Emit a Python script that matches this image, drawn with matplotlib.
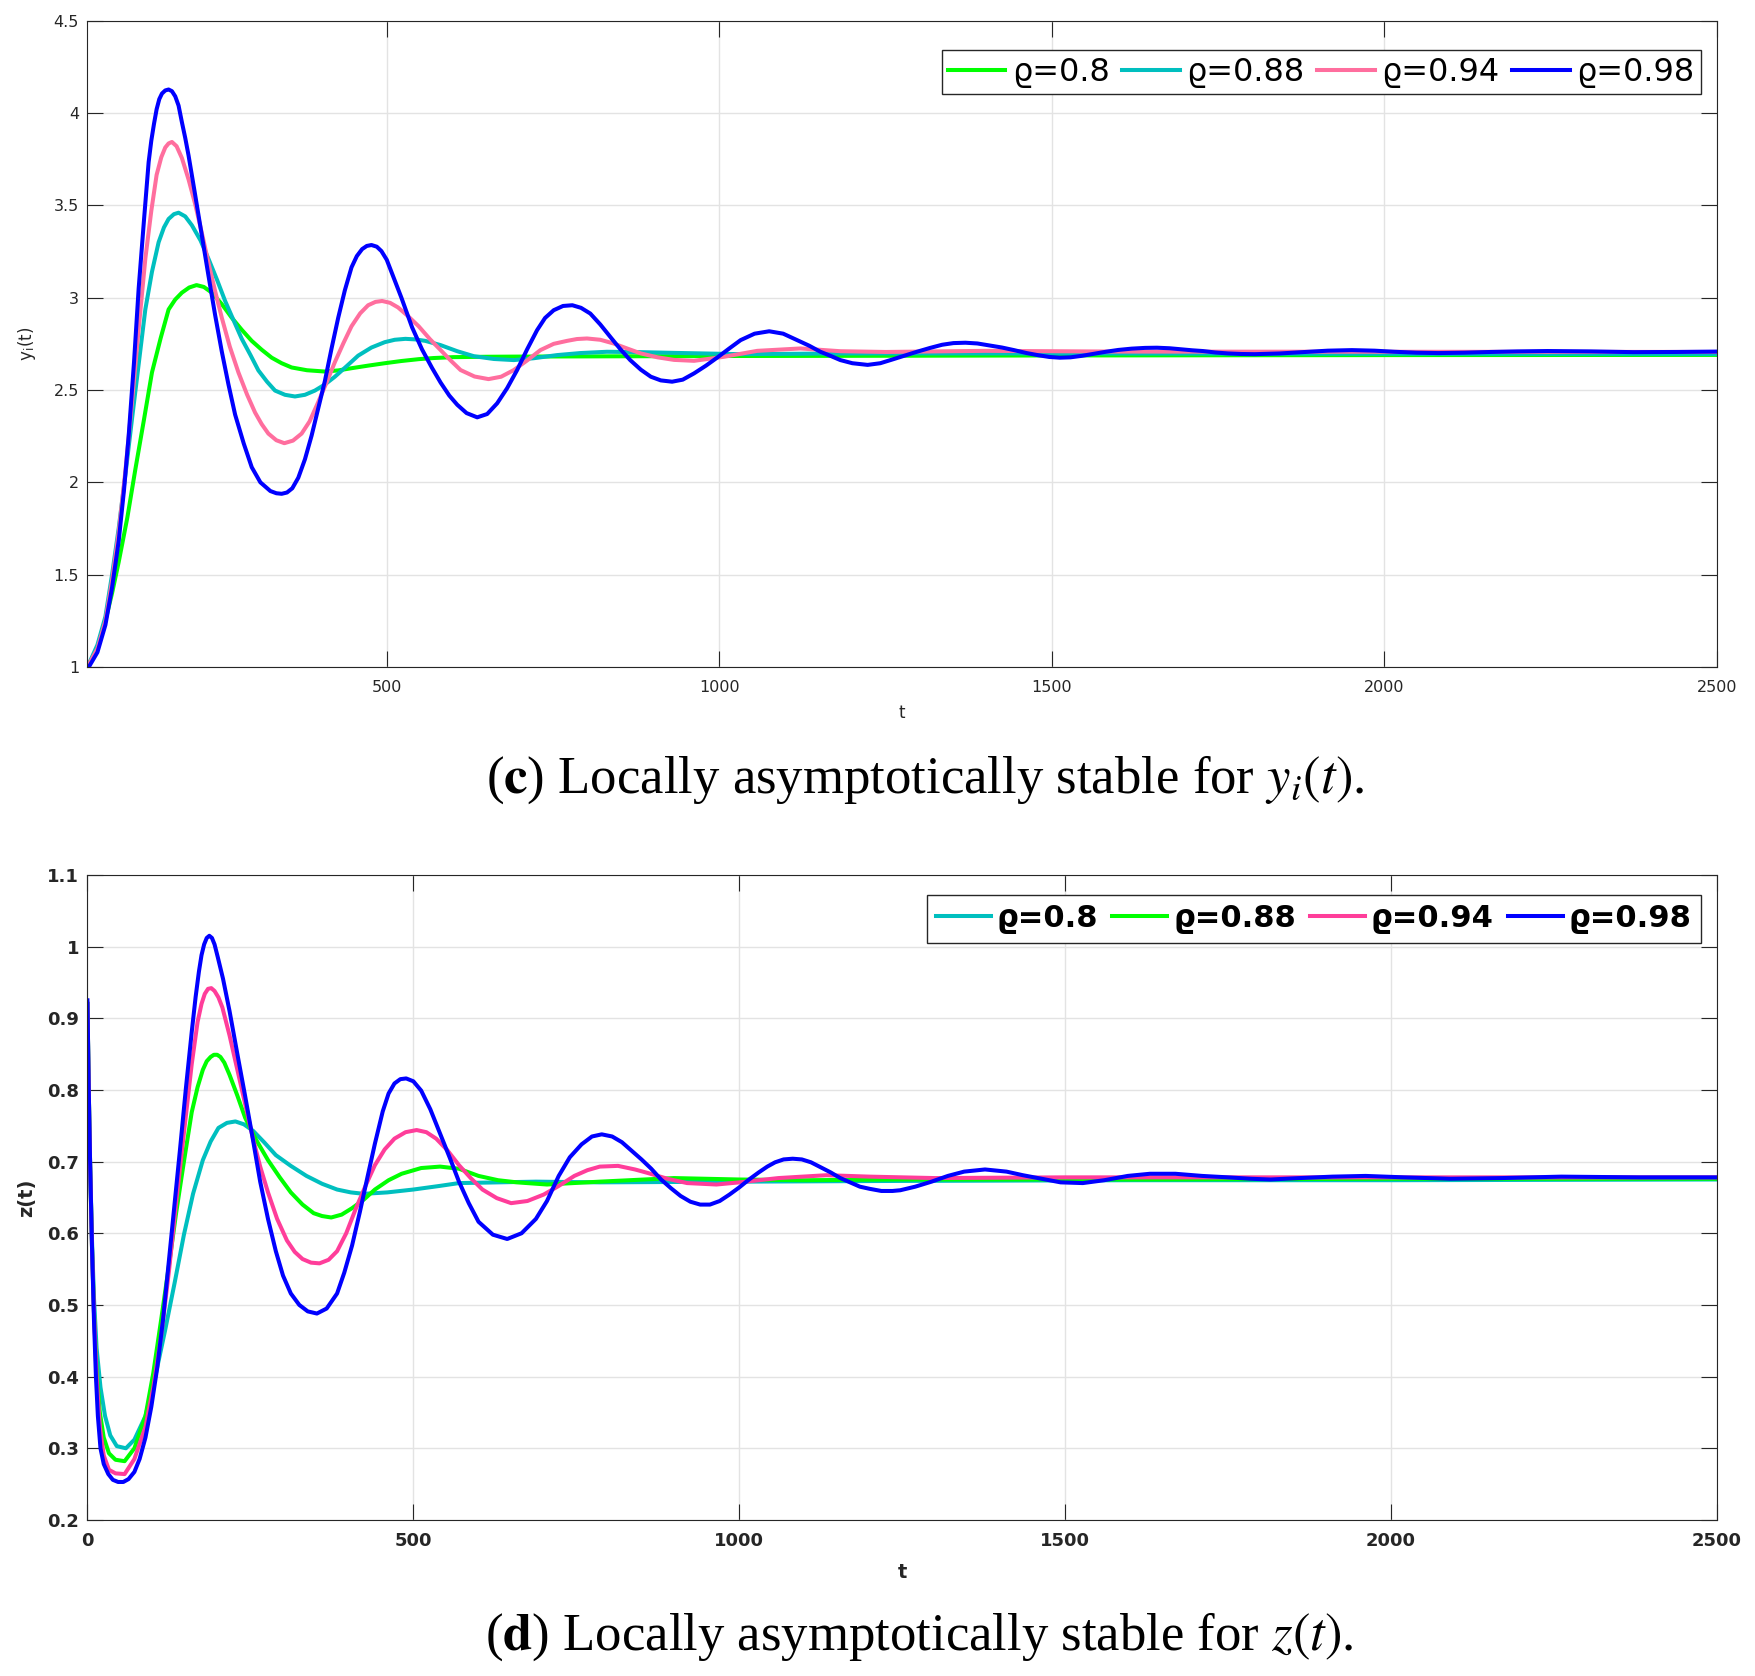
import matplotlib
matplotlib.use('Agg')
import matplotlib.pyplot as plt

plt.rcParams['font.family'] = ['DejaVu Sans']
plt.rcParams['mathtext.fontset'] = 'stix'

# ---- data ----
rho_labels = ['ϱ=0.8', 'ϱ=0.88', 'ϱ=0.94', 'ϱ=0.98']

# panel (c): y_i(t)
y_080 = [(50, 1.0), (65, 1.1), (77, 1.25), (87, 1.4), (97, 1.569), (110, 1.81), (122, 2.07), (135, 2.34),
         (147, 2.595), (160, 2.78), (172, 2.936), (182, 2.99), (192, 3.027), (203, 3.055), (214, 3.068),
         (225, 3.058), (237, 3.027), (252, 2.965), (267, 2.891), (282, 2.826), (297, 2.766), (312, 2.718),
         (327, 2.675), (342, 2.645), (357, 2.622), (380, 2.607), (407, 2.6), (427, 2.606), (447, 2.618),
         (472, 2.632), (497, 2.645), (522, 2.657), (548, 2.667), (570, 2.673), (600, 2.678), (650, 2.68),
         (700, 2.681), (800, 2.682), (900, 2.683), (1000, 2.684), (1200, 2.685), (1500, 2.687),
         (2000, 2.689), (2500, 2.69)]
y_088 = [(50, 1.0), (65, 1.12), (77, 1.273), (87, 1.5), (97, 1.752), (107, 2.04), (117, 2.344), (127, 2.64),
         (137, 2.936), (147, 3.14), (157, 3.3), (165, 3.38), (172, 3.426), (180, 3.452), (187, 3.46),
         (197, 3.44), (207, 3.392), (220, 3.31), (232, 3.21), (245, 3.095), (257, 2.982), (270, 2.875),
         (282, 2.777), (295, 2.69), (307, 2.606), (320, 2.545), (332, 2.497), (347, 2.474), (362, 2.465),
         (377, 2.474), (392, 2.497), (407, 2.53), (422, 2.572), (440, 2.63), (457, 2.686), (477, 2.73),
         (497, 2.759), (512, 2.772), (528, 2.777), (543, 2.774), (558, 2.766), (581, 2.743), (606, 2.71),
         (631, 2.683), (661, 2.668), (691, 2.662), (721, 2.672), (756, 2.689), (791, 2.7), (831, 2.707),
         (880, 2.705), (932, 2.701), (1032, 2.694), (1182, 2.698), (1500, 2.698), (2000, 2.696),
         (2500, 2.695)]
y_094 = [(50, 1.0), (65, 1.1), (77, 1.25), (87, 1.47), (97, 1.729), (107, 2.06), (117, 2.435), (127, 2.83),
         (137, 3.21), (146, 3.47), (154, 3.665), (161, 3.76), (167, 3.813), (172, 3.835), (177, 3.843),
         (184, 3.82), (192, 3.756), (202, 3.64), (212, 3.506), (222, 3.35), (232, 3.187), (242, 3.035),
         (252, 2.891), (264, 2.735), (277, 2.595), (290, 2.475), (302, 2.378), (312, 2.315), (322, 2.264),
         (334, 2.228), (346, 2.212), (359, 2.226), (372, 2.264), (384, 2.33), (397, 2.435), (410, 2.545),
         (422, 2.651), (435, 2.755), (447, 2.845), (460, 2.915), (472, 2.959), (483, 2.977), (493, 2.982),
         (505, 2.972), (517, 2.947), (532, 2.9), (548, 2.845), (565, 2.775), (581, 2.716), (596, 2.66),
         (611, 2.608), (632, 2.573), (653, 2.559), (672, 2.572), (691, 2.608), (711, 2.66), (731, 2.716),
         (751, 2.75), (771, 2.766), (786, 2.776), (801, 2.779), (821, 2.772), (841, 2.752), (862, 2.724),
         (882, 2.698), (907, 2.677), (932, 2.663), (962, 2.658), (1007, 2.68), (1057, 2.712), (1122, 2.725),
         (1182, 2.71), (1250, 2.706), (1400, 2.712), (1600, 2.708), (2000, 2.707), (2500, 2.706)]
y_098 = [(52, 1.0), (65, 1.08), (77, 1.228), (87, 1.43), (97, 1.683), (105, 1.96), (112, 2.253), (120, 2.65),
         (127, 3.05), (135, 3.42), (142, 3.734), (146, 3.85), (150, 3.94), (154, 4.02), (158, 4.075),
         (162, 4.105), (167, 4.122), (172, 4.127), (177, 4.118), (182, 4.09), (187, 4.04), (192, 3.95),
         (197, 3.865), (202, 3.77), (212, 3.555), (222, 3.335), (232, 3.118), (242, 2.905),
         (252, 2.708), (262, 2.53), (272, 2.367), (285, 2.21), (297, 2.082), (310, 2.0), (325, 1.953),
         (334, 1.941), (342, 1.938), (350, 1.945), (358, 1.968), (367, 2.025), (377, 2.125), (387, 2.253),
         (397, 2.4), (407, 2.549), (417, 2.725), (427, 2.891), (437, 3.04), (447, 3.164), (455, 3.225),
         (463, 3.263), (470, 3.28), (477, 3.285), (485, 3.276), (492, 3.252), (500, 3.205),
         (507, 3.14), (522, 3.0), (538, 2.84), (553, 2.72), (568, 2.62), (581, 2.54), (594, 2.47),
         (606, 2.42), (620, 2.375), (636, 2.352), (651, 2.37), (666, 2.428), (681, 2.51), (696, 2.608),
         (711, 2.72), (726, 2.824), (738, 2.89), (751, 2.932), (765, 2.955), (779, 2.959), (792, 2.945),
         (806, 2.914), (821, 2.855), (836, 2.788), (851, 2.722), (866, 2.662), (882, 2.61), (897, 2.572),
         (912, 2.552), (929, 2.545), (945, 2.556), (962, 2.59), (980, 2.632), (997, 2.676), (1015, 2.725),
         (1032, 2.77), (1053, 2.805), (1075, 2.818), (1096, 2.805), (1117, 2.77), (1135, 2.74),
         (1152, 2.707), (1167, 2.685), (1182, 2.662), (1200, 2.645), (1223, 2.636), (1242, 2.645),
         (1260, 2.665), (1280, 2.688), (1297, 2.707), (1317, 2.728), (1335, 2.745), (1352, 2.754),
         (1370, 2.756), (1388, 2.752), (1405, 2.742), (1425, 2.73), (1443, 2.716), (1462, 2.7),
         (1480, 2.688), (1496, 2.679), (1512, 2.675), (1528, 2.677), (1545, 2.685), (1563, 2.696),
         (1581, 2.707), (1600, 2.717), (1620, 2.724), (1640, 2.728), (1658, 2.729), (1677, 2.726),
         (1695, 2.72), (1711, 2.715), (1727, 2.711), (1746, 2.703), (1765, 2.698), (1785, 2.695),
         (1805, 2.694), (1843, 2.698), (1880, 2.706), (1915, 2.713), (1951, 2.716), (1985, 2.713),
         (2015, 2.707), (2048, 2.702), (2081, 2.7), (2120, 2.702), (2160, 2.706), (2200, 2.709),
         (2245, 2.711), (2310, 2.709), (2374, 2.705), (2440, 2.706), (2500, 2.708)]

# panel (d): z(t)
z_080 = [(0, 0.92), (2, 0.8), (4, 0.7), (7, 0.59), (10, 0.51), (14, 0.44), (20, 0.385), (27, 0.345),
         (35, 0.318), (45, 0.303), (59, 0.3), (72, 0.312), (89, 0.345), (104, 0.4), (119, 0.464),
         (134, 0.532), (148, 0.598), (162, 0.655), (177, 0.702), (189, 0.728), (201, 0.747), (214, 0.754),
         (227, 0.756), (240, 0.752), (254, 0.743), (271, 0.727), (289, 0.709), (312, 0.694), (336, 0.68),
         (360, 0.669), (383, 0.661), (404, 0.657), (424, 0.655), (460, 0.657), (500, 0.661), (540, 0.666),
         (570, 0.67), (630, 0.671), (688, 0.672), (786, 0.671), (1000, 0.672), (1247, 0.673),
         (1600, 0.674), (2000, 0.674), (2500, 0.675)]
z_088 = [(0, 0.92), (2, 0.8), (4, 0.7), (7, 0.58), (10, 0.49), (14, 0.41), (19, 0.35), (25, 0.315),
         (33, 0.293), (43, 0.284), (57, 0.282), (72, 0.3), (89, 0.345), (101, 0.405), (113, 0.479),
         (125, 0.555), (136, 0.628), (148, 0.7), (160, 0.769), (169, 0.804), (177, 0.828), (183, 0.84),
         (189, 0.846), (194, 0.849), (199, 0.849), (204, 0.846), (210, 0.838), (218, 0.821), (230, 0.792),
         (242, 0.761), (259, 0.73), (277, 0.702),
         (295, 0.678), (312, 0.657), (330, 0.64), (347, 0.628), (360, 0.624), (374, 0.622), (390, 0.626),
         (406, 0.635), (424, 0.647), (441, 0.661), (462, 0.674), (482, 0.683), (512, 0.691), (541, 0.693),
         (570, 0.69), (600, 0.68), (630, 0.674), (659, 0.671), (705, 0.668), (786, 0.672), (900, 0.677),
         (1000, 0.675), (1100, 0.674), (1247, 0.675), (1600, 0.675), (2000, 0.676), (2500, 0.676)]
z_094 = [(0, 0.92), (2, 0.8), (4, 0.7), (7, 0.58), (10, 0.49), (14, 0.4), (19, 0.33), (25, 0.29),
         (33, 0.27), (43, 0.265), (57, 0.264), (72, 0.285), (89, 0.33), (101, 0.385), (113, 0.456),
         (125, 0.547), (136, 0.642), (148, 0.74), (160, 0.836), (169, 0.895), (175, 0.92), (180, 0.934),
         (185, 0.941), (190, 0.942), (195, 0.938), (201, 0.929), (207, 0.915), (218, 0.876), (230, 0.828),
         (242, 0.78), (254, 0.732),
         (265, 0.693), (277, 0.657), (291, 0.62), (306, 0.59), (318, 0.574), (330, 0.564), (343, 0.559),
         (356, 0.558), (370, 0.563), (383, 0.575), (397, 0.6), (412, 0.635), (427, 0.667), (441, 0.695),
         (456, 0.717), (471, 0.732), (488, 0.741), (505, 0.744), (520, 0.741), (535, 0.732), (552, 0.716),
         (570, 0.695), (588, 0.677), (606, 0.661), (628, 0.649), (650, 0.642), (675, 0.645), (700, 0.654),
         (723, 0.666), (747, 0.68), (767, 0.688), (786, 0.693), (814, 0.694), (840, 0.689), (860, 0.684),
         (890, 0.676), (920, 0.67), (965, 0.668), (1000, 0.671), (1060, 0.677), (1134, 0.681),
         (1200, 0.679), (1300, 0.677), (1500, 0.678), (2000, 0.678), (2500, 0.678)]
z_098 = [(0, 0.925), (2, 0.8), (4, 0.702), (7, 0.58), (10, 0.479), (13, 0.4), (16, 0.345), (20, 0.3),
         (25, 0.278), (32, 0.264), (39, 0.256), (47, 0.253), (55, 0.253), (63, 0.257), (72, 0.267),
         (80, 0.285), (89, 0.315), (98, 0.358), (107, 0.412), (116, 0.48), (124, 0.553), (133, 0.635),
         (142, 0.717), (151, 0.802), (160, 0.881), (166, 0.93), (171, 0.965), (175, 0.988), (179, 1.003),
         (183, 1.012), (187, 1.015), (191, 1.012), (195, 1.003), (200, 0.985), (208, 0.955), (218, 0.91),
         (230, 0.85), (242, 0.791), (254, 0.73),
         (265, 0.672), (277, 0.62), (289, 0.575), (300, 0.541), (312, 0.516), (325, 0.5), (338, 0.491),
         (352, 0.488), (367, 0.495), (383, 0.516), (394, 0.545), (406, 0.583), (418, 0.63), (430, 0.68),
         (441, 0.725), (453, 0.77), (462, 0.795), (471, 0.809), (480, 0.815), (489, 0.816), (500, 0.812),
         (512, 0.799), (526, 0.773), (541, 0.739), (556, 0.705), (570, 0.672), (585, 0.642), (600, 0.616),
         (622, 0.598), (644, 0.592), (666, 0.6), (688, 0.62), (705, 0.645), (723, 0.68), (740, 0.706),
         (758, 0.724), (774, 0.735), (789, 0.738), (805, 0.735), (820, 0.727), (835, 0.715), (850, 0.703),
         (865, 0.69), (880, 0.675), (895, 0.663), (910, 0.652), (925, 0.644), (940, 0.64), (955, 0.64),
         (970, 0.645), (985, 0.654), (1000, 0.664), (1015, 0.675), (1030, 0.685), (1043, 0.693),
         (1055, 0.699), (1068, 0.703), (1082, 0.704), (1096, 0.703), (1110, 0.699), (1125, 0.692),
         (1140, 0.685), (1155, 0.677), (1170, 0.671), (1185, 0.665), (1200, 0.662), (1218, 0.659),
         (1235, 0.659), (1247, 0.66), (1270, 0.665), (1295, 0.672), (1320, 0.68), (1345, 0.686),
         (1377, 0.689), (1410, 0.686), (1435, 0.681), (1458, 0.677), (1493, 0.671), (1527, 0.67),
         (1560, 0.674), (1596, 0.68), (1630, 0.683), (1669, 0.683), (1710, 0.68), (1750, 0.678),
         (1785, 0.676), (1815, 0.675), (1860, 0.677), (1910, 0.679), (1961, 0.68), (2020, 0.678),
         (2091, 0.676), (2170, 0.677), (2261, 0.679), (2380, 0.678), (2500, 0.678)]

y_ticks = [1, 1.5, 2, 2.5, 3, 3.5, 4, 4.5]
y_ticklabels = ['1', '1.5', '2', '2.5', '3', '3.5', '4', '4.5']
z_ticks = [0.2, 0.3, 0.4, 0.5, 0.6, 0.7, 0.8, 0.9, 1.0, 1.1]
z_ticklabels = ['0.2', '0.3', '0.4', '0.5', '0.6', '0.7', '0.8', '0.9', '1', '1.1']
t_ticks_c = [500, 1000, 1500, 2000, 2500]
t_ticks_d = [0, 500, 1000, 1500, 2000, 2500]

colors_c = ['#00ff00', '#00bfbf', '#ff6e9e', '#0000ff']
colors_d = ['#00bfbf', '#00ff00', '#ff3d9a', '#0000ff']

caption_c = r'($\mathbf{c}$) Locally asymptotically stable for $y_i(t)$.'
caption_d = r'($\mathbf{d}$) Locally asymptotically stable for $z(t)$.'

# ---- figure ----
fig = plt.figure(figsize=(17.56, 16.76), dpi=100)
ax1 = fig.add_axes([0.0498, 0.602, 0.928, 0.3857])
ax2 = fig.add_axes([0.0498, 0.0931, 0.928, 0.3849])

axis_col = '#262626'
lw = 2.9


def style_axes(ax, bold):
    w = 'bold' if bold else 'normal'
    ax.grid(True, color='#e3e3e3', linewidth=1.0)
    ax.set_axisbelow(True)
    for s in ax.spines.values():
        s.set_color(axis_col)
        s.set_linewidth(0.8)
    ax.tick_params(direction='in', length=11.5, width=0.8, color=axis_col,
                   top=True, right=True, labelcolor=axis_col)
    ax.tick_params(axis='x', pad=9)
    ax.tick_params(axis='y', pad=6)
    for lab in ax.get_xticklabels() + ax.get_yticklabels():
        lab.set_fontweight(w)


# panel (c)
for data, col, lab in zip([y_080, y_088, y_094, y_098], colors_c, rho_labels):
    t, v = zip(*data)
    ax1.plot(t, v, color=col, linewidth=lw, label=lab, solid_joinstyle='round')
ax1.set_xlim(50, 2500)
ax1.set_ylim(1, 4.5)
ax1.set_xticks(t_ticks_c)
ax1.set_xticklabels([str(x) for x in t_ticks_c], fontsize=11.5)
ax1.set_yticks(y_ticks)
ax1.set_yticklabels(y_ticklabels, fontsize=11.5)
style_axes(ax1, False)
ax1.set_xlabel('t', fontsize=12, color=axis_col, labelpad=7)
ax1.set_ylabel(r'y$_\mathregular{i}$(t)', fontsize=12, color=axis_col, labelpad=11)
leg1 = ax1.legend(loc='upper right', bbox_to_anchor=(0.990, 0.954), ncol=4, fontsize=23,
                  handlelength=1.8, handletextpad=0.2, columnspacing=0.4, borderpad=0.2,
                  borderaxespad=0, fancybox=False, framealpha=1, edgecolor=axis_col)
leg1.get_frame().set_linewidth(1.0)

# panel (d)
for data, col, lab in zip([z_080, z_088, z_094, z_098], colors_d, rho_labels):
    t, v = zip(*data)
    ax2.plot(t, v, color=col, linewidth=lw, label=lab, solid_joinstyle='round')
ax2.set_xlim(0, 2500)
ax2.set_ylim(0.2, 1.1)
ax2.set_xticks(t_ticks_d)
ax2.set_xticklabels([str(x) for x in t_ticks_d], fontsize=13)
ax2.set_yticks(z_ticks)
ax2.set_yticklabels(z_ticklabels, fontsize=13)
style_axes(ax2, True)
ax2.set_xlabel('t', fontsize=14, fontweight='bold', color=axis_col, labelpad=9)
ax2.set_ylabel('z(t)', fontsize=14, fontweight='bold', color=axis_col, labelpad=8)
leg2 = ax2.legend(loc='upper right', bbox_to_anchor=(0.990, 0.969), ncol=4,
                  prop={'size': 22, 'weight': 'bold'},
                  handlelength=1.8, handletextpad=0.2, columnspacing=0.45, borderpad=0.3,
                  borderaxespad=0, fancybox=False, framealpha=1, edgecolor=axis_col)
leg2.get_frame().set_linewidth(1.0)

# captions
fig.text(0.527, 0.535, caption_c, ha='center', va='center', fontsize=38,
         family=['Liberation Serif', 'DejaVu Serif'])
fig.text(0.5238, 0.0235, caption_d, ha='center', va='center', fontsize=38,
         family=['Liberation Serif', 'DejaVu Serif'])

fig.savefig('out.png', dpi=100)
